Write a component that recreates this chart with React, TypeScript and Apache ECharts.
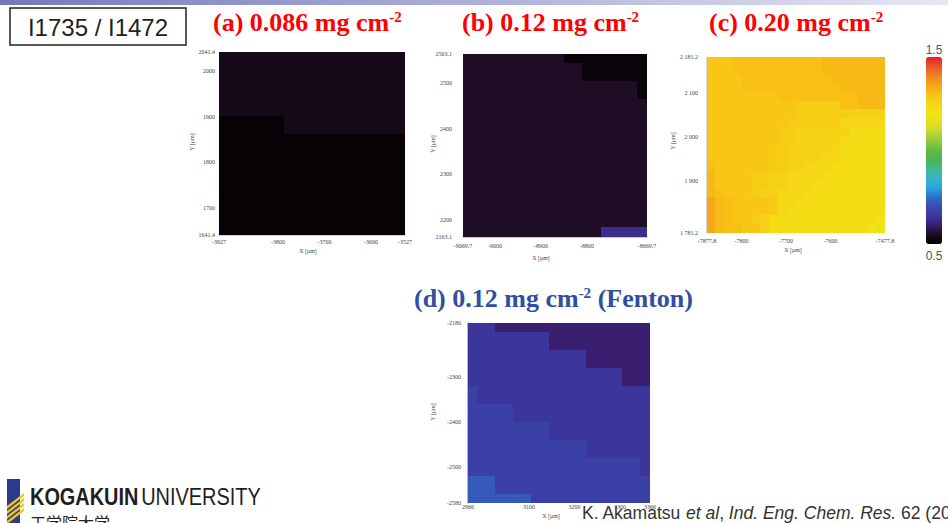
import React, { useEffect, useRef } from "react";
import * as echarts from "echarts";

// ---------- data ----------
const cells = [0, 1, 2, 3, 4, 5, 6, 7, 8, 9, 10, 11, 12, 13, 14, 15, 16, 17, 18, 19];

// (a) 0.086 mg cm-2 : rows top -> bottom
const levelsA: Record<string, number> = { "0": 0.51, "1": 0.54 };
const rowsA = [
  "11111111111111111111",
  "11111111111111111111",
  "11111111111111111111",
  "11111111111111111111",
  "11111111111111111111",
  "11111111111111111111",
  "11111111111111111111",
  "00000001111111111111",
  "00000001111111111111",
  "00000000000000000000",
  "00000000000000000000",
  "00000000000000000000",
  "00000000000000000000",
  "00000000000000000000",
  "00000000000000000000",
  "00000000000000000000",
  "00000000000000000000",
  "00000000000000000000",
  "00000000000000000000",
  "00000000000000000000",
];

// (b) 0.12 mg cm-2
const levelsB: Record<string, number> = { "0": 0.515, "1": 0.553, "2": 0.63 };
const rowsB = [
  "11111111111000000000",
  "11111111111110000000",
  "11111111111110000000",
  "11111111111111111110",
  "11111111111111111110",
  "11111111111111111111",
  "11111111111111111111",
  "11111111111111111111",
  "11111111111111111111",
  "11111111111111111111",
  "11111111111111111111",
  "11111111111111111111",
  "11111111111111111111",
  "11111111111111111111",
  "11111111111111111111",
  "11111111111111111111",
  "11111111111111111111",
  "11111111111111111111",
  "11111111111111111111",
  "11111111111111122222",
];

// (c) 0.20 mg cm-2
const levelsC: Record<string, number> = {
  a: 1.345, b: 1.315, c: 1.303, d: 1.29, e: 1.275, f: 1.26, g: 1.245, h: 1.225, i: 1.2, j: 1.17,
};
const rowsC = [
  "dddccccccccccbbbbbbb",
  "dddccccccccccbbbbbbb",
  "ddddccccccccccbbbbbb",
  "ddddcccccccccccbbbbb",
  "ddddddddcccccccccbbb",
  "ddddddddddeeeeeccbbb",
  "ddddddddddeeeeeeffff",
  "dddddddddeeeeeeggggg",
  "ddddddddeeffffffhhhh",
  "ddddddddeefffffhhhhh",
  "dddddddeefffffghhhhh",
  "dddddddeeffffgghhhhh",
  "cddddddeeffggghhhhhh",
  "bddddeeffgggghhhhhhh",
  "bddddeeffggghhhhhhhh",
  "bcdddeffggghhhhhhhhh",
  "abcddddegghhhhhhhhhh",
  "abcddddeghhhhhhhhhhh",
  "abcddefhhhhhhhhhhhhi",
  "abccddfhhhhhhhhhhhij",
];

// (d) 0.12 mg cm-2 (Fenton)
const levelsD: Record<string, number> = { p: 0.605, q: 0.645, r: 0.67, t: 0.72 };
const rowsD = [
  "qqqppppppppppppppppp",
  "qqqqqqqqqppppppppppp",
  "qqqqqqqqqppppppppppp",
  "qqqqqqqqqqqqqppppppp",
  "qqqqqqqqqqqqqppppppp",
  "qqqqqqqqqqqqqqqqqppp",
  "qqqqqqqqqqqqqqqqqppp",
  "rqqqqqqqqqqqqqqqqqqq",
  "rqqqqqqqqqqqqqqqqqqq",
  "rrrrrqqqqqqqqqqqqqqq",
  "rrrrrqqqqqqqqqqqqqqq",
  "rrrrrrrrrqqqqqqqqqqq",
  "rrrrrrrrrqqqqqqqqqqq",
  "rrrrrrrrrrrrrqqqqqqq",
  "rrrrrrrrrrrrrqqqqqqq",
  "rrrrrrrrrrrrrrrrrrrq",
  "rrrrrrrrrrrrrrrrrrrq",
  "tttrrrrrrrrrrrrrrrrr",
  "tttrrrrrrrrrrrrrrrrr",
  "tttttttrrrrrrrrrrrrr",
];

const xTicksA = [-3927, -3800, -3700, -3600, -3527];
const yTicksA = [1641.4, 1700, 1800, 1900, 2000, 2041.4];
const xTicksB = [-9069.7, -9000, -8900, -8800, -8669.7];
const yTicksB = [2163.1, 2200, 2300, 2400, 2500, 2563.1];
const xTicksC = [-7877.8, -7800, -7700, -7600, -7477.8];
const yTicksC = [1781.2, 1900, 2000, 2100, 2181.2];
const xTicksD = [2966, 3100, 3200, 3300, 3366];
const yTicksD = [-2580, -2500, -2400, -2300, -2180];

const colorMin = 0.5;
const colorMax = 1.5;

// ---------- styles ----------
const jet = [
  "#000000", "#1c0c20", "#3a1c6c", "#3c38a0", "#3a4cb0", "#2f6ec8", "#27a6e0",
  "#35b6c8", "#42b890", "#49b654", "#62bc42", "#92c83a", "#c2d830", "#e4e020",
  "#f2e414", "#f6d616", "#f8c214", "#f4a41a", "#f08422", "#ec542a", "#e81c2c",
];

const plain = (v: number) => String(v);
const spaced = (v: number) => {
  const s = String(v);
  return Math.abs(v) >= 1000 ? s[0] + " " + s.slice(1) : s;
};

const panels = [
  { grid: { left: 219, top: 52, width: 186, height: 183 }, bg: "#050205", rows: rowsA, levels: levelsA,
    xTicks: xTicksA, yTicks: yTicksA, xMargin: 4, yMargin: 4, xLine: "#a8d6d6", yLine: "", yFmt: plain },
  { grid: { left: 463, top: 54, width: 184, height: 183 }, bg: "#1b0b1f", rows: rowsB, levels: levelsB,
    xTicks: xTicksB, yTicks: yTicksB, xMargin: 6, yMargin: 11, xLine: "#b0b0e4", yLine: "", yFmt: plain },
  { grid: { left: 707, top: 57, width: 178, height: 176 }, bg: "#f8c814", rows: rowsC, levels: levelsC,
    xTicks: xTicksC, yTicks: yTicksC, xMargin: 5, yMargin: 9, xLine: "", yLine: "#c8c8c8", yFmt: spaced },
  { grid: { left: 468, top: 323, width: 182, height: 180 }, bg: "#3c379d", rows: rowsD, levels: levelsD,
    xTicks: xTicksD, yTicks: yTicksD, xMargin: 1, yMargin: 7, xLine: "", yLine: "#55bde8", yFmt: plain },
];

const tickFont = { fontSize: 6, fontFamily: "Liberation Serif", color: "#444" };

function renderCell(params: any, api: any) {
  const c = api.coord([api.value(0), api.value(1)]);
  const s = api.size([1, 1]);
  const color = api.visual("color");
  const x0 = Math.floor(c[0] - s[0] / 2);
  const y0 = Math.floor(c[1] - s[1] / 2);
  const x1 = Math.ceil(c[0] + s[0] / 2);
  const y1 = Math.ceil(c[1] + s[1] / 2);
  return {
    type: "rect",
    shape: { x: x0, y: y0, width: x1 - x0, height: y1 - y0 },
    style: { fill: color },
  };
}

function buildOption() {
  const grid: any[] = [];
  const xAxis: any[] = [];
  const yAxis: any[] = [];
  const series: any[] = [];
  panels.forEach((p, i) => {
    grid.push({ ...p.grid, containLabel: false, show: true, backgroundColor: p.bg, borderWidth: 0 });
    xAxis.push({ type: "category", gridIndex: i, data: cells, show: false, position: "bottom" });
    xAxis.push({
      type: "value", gridIndex: i, position: "bottom",
      min: p.xTicks[0], max: p.xTicks[p.xTicks.length - 1],
      axisLine: { show: !!p.xLine, lineStyle: { color: p.xLine || "#000", width: 1.5 } },
      axisTick: { show: false }, splitLine: { show: false },
      axisLabel: { customValues: p.xTicks, margin: p.xMargin, formatter: plain, ...tickFont },
    });
    yAxis.push({ type: "category", gridIndex: i, data: cells, show: false, position: "left" });
    yAxis.push({
      type: "value", gridIndex: i, position: "left",
      min: p.yTicks[0], max: p.yTicks[p.yTicks.length - 1],
      axisLine: { show: !!p.yLine, lineStyle: { color: p.yLine || "#000", width: 1.5 } },
      axisTick: { show: false }, splitLine: { show: false },
      axisLabel: { customValues: p.yTicks, margin: p.yMargin, formatter: p.yFmt, ...tickFont },
    });
    const data: number[][] = [];
    p.rows.forEach((row, r) => {
      for (let c = 0; c < row.length; c++) {
        data.push([c, p.rows.length - 1 - r, p.levels[row[c]]]);
      }
    });
    series.push({
      type: "custom", coordinateSystem: "cartesian2d", xAxisIndex: 2 * i, yAxisIndex: 2 * i,
      data, encode: { x: 0, y: 1 }, renderItem: renderCell, silent: true, z: 1, clip: true,
    });
  });

  const red = "#ff0000";
  const blue = "#2e4fa2";
  const title = (x: number, y: number, main: string, tail: string, color: string) => ({
    type: "text", x, y,
    style: {
      text: "{m|" + main + "}{s|-2}" + (tail ? "{m|" + tail + "}" : ""),
      verticalAlign: "middle",
      rich: {
        m: { fontSize: 26, fontWeight: "bold", fontFamily: "Liberation Serif", fill: color },
        s: { fontSize: 15, fontWeight: "bold", fontFamily: "Liberation Serif", fill: color, verticalAlign: "top" },
      },
    },
  });
  const axTitle = (x: number, y: number, t: string, rot: boolean) => ({
    type: "text", x, y, rotation: rot ? Math.PI / 2 : 0,
    style: { text: t, align: "center", verticalAlign: "middle", fontSize: 6, fontFamily: "Liberation Serif", fill: "#444" },
  });

  const graphic: any[] = [
    {
      type: "rect", shape: { x: 0, y: 0, width: 948, height: 5 },
      style: {
        fill: new echarts.graphic.LinearGradient(0, 0, 1, 0, [
          { offset: 0, color: "#7478bc" },
          { offset: 1, color: "#e6e7f4" },
        ]),
      },
    },
    { type: "rect", shape: { x: 10, y: 8, width: 176, height: 37 }, style: { fill: "none", stroke: "#222", lineWidth: 1.5 } },
    {
      type: "text", x: 98, y: 27,
      style: { text: "I1735 / I1472", align: "center", verticalAlign: "middle", fontSize: 24, fontFamily: "Liberation Sans", fill: "#222" },
    },
    title(213, 22, "(a) 0.086 mg cm", "", red),
    title(462, 22, "(b) 0.12 mg cm", "", red),
    title(709, 22, "(c) 0.20 mg cm", "", red),
    title(414, 298, "(d) 0.12 mg cm", " (Fenton)", blue),
    axTitle(308, 251, "X [μm]", false),
    axTitle(192, 142, "Y [μm]", true),
    axTitle(541, 258, "X [μm]", false),
    axTitle(433, 144, "Y [μm]", true),
    axTitle(793, 250, "X [μm]", false),
    axTitle(673, 141, "Y [μm]", true),
    axTitle(551, 516, "X [μm]", false),
    axTitle(433, 412, "Y [μm]", true),
    {
      type: "text", x: 934, y: 50,
      style: { text: "1.5", align: "center", verticalAlign: "middle", fontSize: 12, fontFamily: "Liberation Sans", fill: "#555" },
    },
    {
      type: "text", x: 934, y: 256,
      style: { text: "0.5", align: "center", verticalAlign: "middle", fontSize: 12, fontFamily: "Liberation Sans", fill: "#555" },
    },
    // logo
    { type: "rect", shape: { x: 7, y: 479, width: 13, height: 44 }, style: { fill: "#2b3a8f" } },
    { type: "polygon", shape: { points: [[7, 506], [7, 509], [24, 496], [24, 493]] }, style: { fill: "#f5c518" } },
    { type: "polygon", shape: { points: [[7, 511], [7, 514], [24, 501], [24, 498]] }, style: { fill: "#f5c518" } },
    { type: "polygon", shape: { points: [[7, 516], [7, 519], [24, 506], [24, 503]] }, style: { fill: "#f5c518" } },
    { type: "polygon", shape: { points: [[7, 521], [7, 524], [24, 511], [24, 508]] }, style: { fill: "#f5c518" } },
    {
      type: "text", x: 30, y: 497, scaleX: 0.83,
      style: {
        text: "{k|KOGAKUIN} {u|UNIVERSITY}",
        verticalAlign: "middle",
        rich: {
          k: { fontSize: 24, fontWeight: "bold", fontFamily: "Liberation Sans", fill: "#1e1e1e" },
          u: { fontSize: 24, fontFamily: "Liberation Sans", fill: "#1e1e1e" },
        },
      },
    },
    {
      type: "text", x: 30, y: 514,
      style: { text: "工学院大学", verticalAlign: "top", fontSize: 16, fontFamily: "Noto Sans CJK JP", fill: "#222" },
    },
    {
      type: "text", x: 582, y: 513,
      style: {
        text: "{n|K. Akamatsu }{i|et al}{n|, }{i|Ind. Eng. Chem. Res.}{n| 62 (2023)}",
        verticalAlign: "middle",
        rich: {
          n: { fontSize: 17.5, fontFamily: "Liberation Sans", fill: "#333" },
          i: { fontSize: 17.5, fontStyle: "italic", fontFamily: "Liberation Sans", fill: "#333" },
        },
      },
    },
  ];

  return {
    animation: false,
    backgroundColor: "#ffffff",
    grid, xAxis, yAxis, series, graphic,
    visualMap: {
      type: "continuous", min: colorMin, max: colorMax, seriesIndex: [0, 1, 2, 3], dimension: 2,
      show: true, calculable: false, hoverLink: false, padding: 0,
      left: 926, top: 57, itemWidth: 16, itemHeight: 187,
      inRange: { color: jet },
    },
  };
}

export default function App() {
  const ref = useRef<HTMLDivElement>(null);
  useEffect(() => {
    const chart = echarts.init(ref.current!, null, { renderer: "svg" });
    chart.setOption(buildOption() as any);
    return () => chart.dispose();
  }, []);
  return (
    <div
      ref={ref}
      style={{ position: "fixed", left: 0, top: 0, width: 948, height: 523, background: "#fff" }}
    />
  );
}
